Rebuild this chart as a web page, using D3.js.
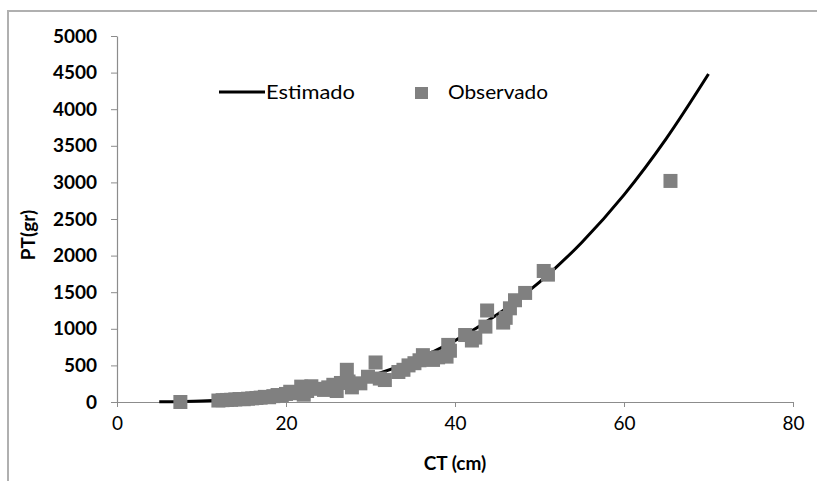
<!DOCTYPE html>
<html><head><meta charset="utf-8">
<script src="https://cdn.jsdelivr.net/npm/d3@7"></script>
<style>
body{margin:0;background:#fff;}
svg{display:block;}
</style></head>
<body><svg id="c" width="817" height="481"></svg>
<script>
// Observed data (CT cm, PT gr)
const obsCT = [7.5,12.0,12.5,13.0,13.5,14.0,14.5,15.0,15.5,16.0,16.5,17.0,17.5,18.0,18.5,19.0,19.5,20.0,20.5,21.0,21.8,22.1,22.5,23.0,23.8,24.5,25.0,25.6,26.0,26.5,27.2,27.4,27.8,28.8,29.7,30.6,31.1,31.7,33.3,33.9,34.5,35.2,35.8,36.2,36.8,37.4,38.0,39.0,39.2,39.4,41.2,42.0,42.4,43.6,43.8,45.7,46.0,46.5,47.1,48.3,50.5,51.0,65.5];
const obsPT = [0,20,25,28,30,35,40,38,45,50,55,60,70,65,80,95,90,110,140,120,210,100,150,215,180,165,200,235,150,260,440,280,200,255,345,540,320,300,410,440,500,530,570,640,600,575,610,620,780,700,915,840,880,1030,1250,1085,1150,1280,1390,1490,1790,1740,3020];
// Estimated curve
const estCT = [5,10,15,20,25,30,35,40,45,50,55,60,65,70];
const estPT = [2,13,44,105,205,354,562,838,1194,1638,2180,2830,3598,4480];
const xTicks = [0,20,40,60,80];
const yTicks = [0,500,1000,1500,2000,2500,3000,3500,4000,4500,5000];
const legendLabels = ["Estimado","Observado"];

const svg = d3.select("#c");
const font = "Lato, 'Open Sans', sans-serif";
svg.append("rect").attr("x",8).attr("y",11).attr("width",900).attr("height",600)
  .attr("fill","#fff").attr("stroke","#b0b0b0").attr("stroke-width",2);

const x = d3.scaleLinear().domain([0,80]).range([117,793]);
const y = d3.scaleLinear().domain([0,5000]).range([402,36]);

const axisColor = "#8c8c8c";
const gx = svg.append("g").attr("transform","translate(0,402)")
  .call(d3.axisBottom(x).tickValues(xTicks).tickFormat(d3.format("d")).tickSize(5).tickSizeOuter(0).tickPadding(10));
gx.select(".domain").attr("stroke",axisColor).attr("stroke-width",1.2);
gx.selectAll(".tick line").attr("stroke",axisColor);
gx.selectAll("text").attr("font-family",font).attr("font-size",19).attr("fill","#000");

const gy = svg.append("g").attr("transform","translate(117,0)")
  .call(d3.axisLeft(y).tickValues(yTicks).tickFormat(d3.format("d")).tickSize(6).tickSizeOuter(0).tickPadding(14));
gy.select(".domain").attr("stroke",axisColor).attr("stroke-width",1.2);
gy.selectAll(".tick line").attr("stroke",axisColor);
gy.selectAll("text").attr("font-family",font).attr("font-size",19).attr("font-weight","bold").attr("fill","#000");

// Axis titles
svg.append("text").attr("x",455).attr("y",470).attr("text-anchor","middle")
  .attr("font-family",font).attr("font-size",19).attr("font-weight","bold").text("CT (cm)");
svg.append("text").attr("transform","translate(35,235) rotate(-90)").attr("text-anchor","middle")
  .attr("font-family",font).attr("font-size",19).attr("font-weight","bold").text("PT(gr)");

// Estimated line
const line = d3.line().x((d,i)=>x(estCT[i])).y((d,i)=>y(estPT[i])).curve(d3.curveMonotoneX);
svg.append("path").datum(estCT).attr("d",line).attr("fill","none").attr("stroke","#000").attr("stroke-width",3);

// Observed squares
const s = 14;
svg.append("g").selectAll("rect").data(obsCT).join("rect")
  .attr("x",(d)=>x(d)-s/2).attr("y",(d,i)=>y(obsPT[i])-s/2)
  .attr("width",s).attr("height",s).attr("fill","#808080");

// Legend
const lg = svg.append("g");
lg.append("line").attr("x1",219).attr("x2",265).attr("y1",92).attr("y2",92).attr("stroke","#000").attr("stroke-width",3);
lg.append("text").attr("x",266).attr("y",99).attr("font-family",font).attr("font-size",19)
  .attr("textLength",89).attr("lengthAdjust","spacingAndGlyphs").text(legendLabels[0]);
lg.append("rect").attr("x",415).attr("y",87).attr("width",13).attr("height",12).attr("fill","#808080");
lg.append("text").attr("x",448).attr("y",99).attr("font-family",font).attr("font-size",19)
  .attr("textLength",100).attr("lengthAdjust","spacingAndGlyphs").text(legendLabels[1]);
</script></body></html>
